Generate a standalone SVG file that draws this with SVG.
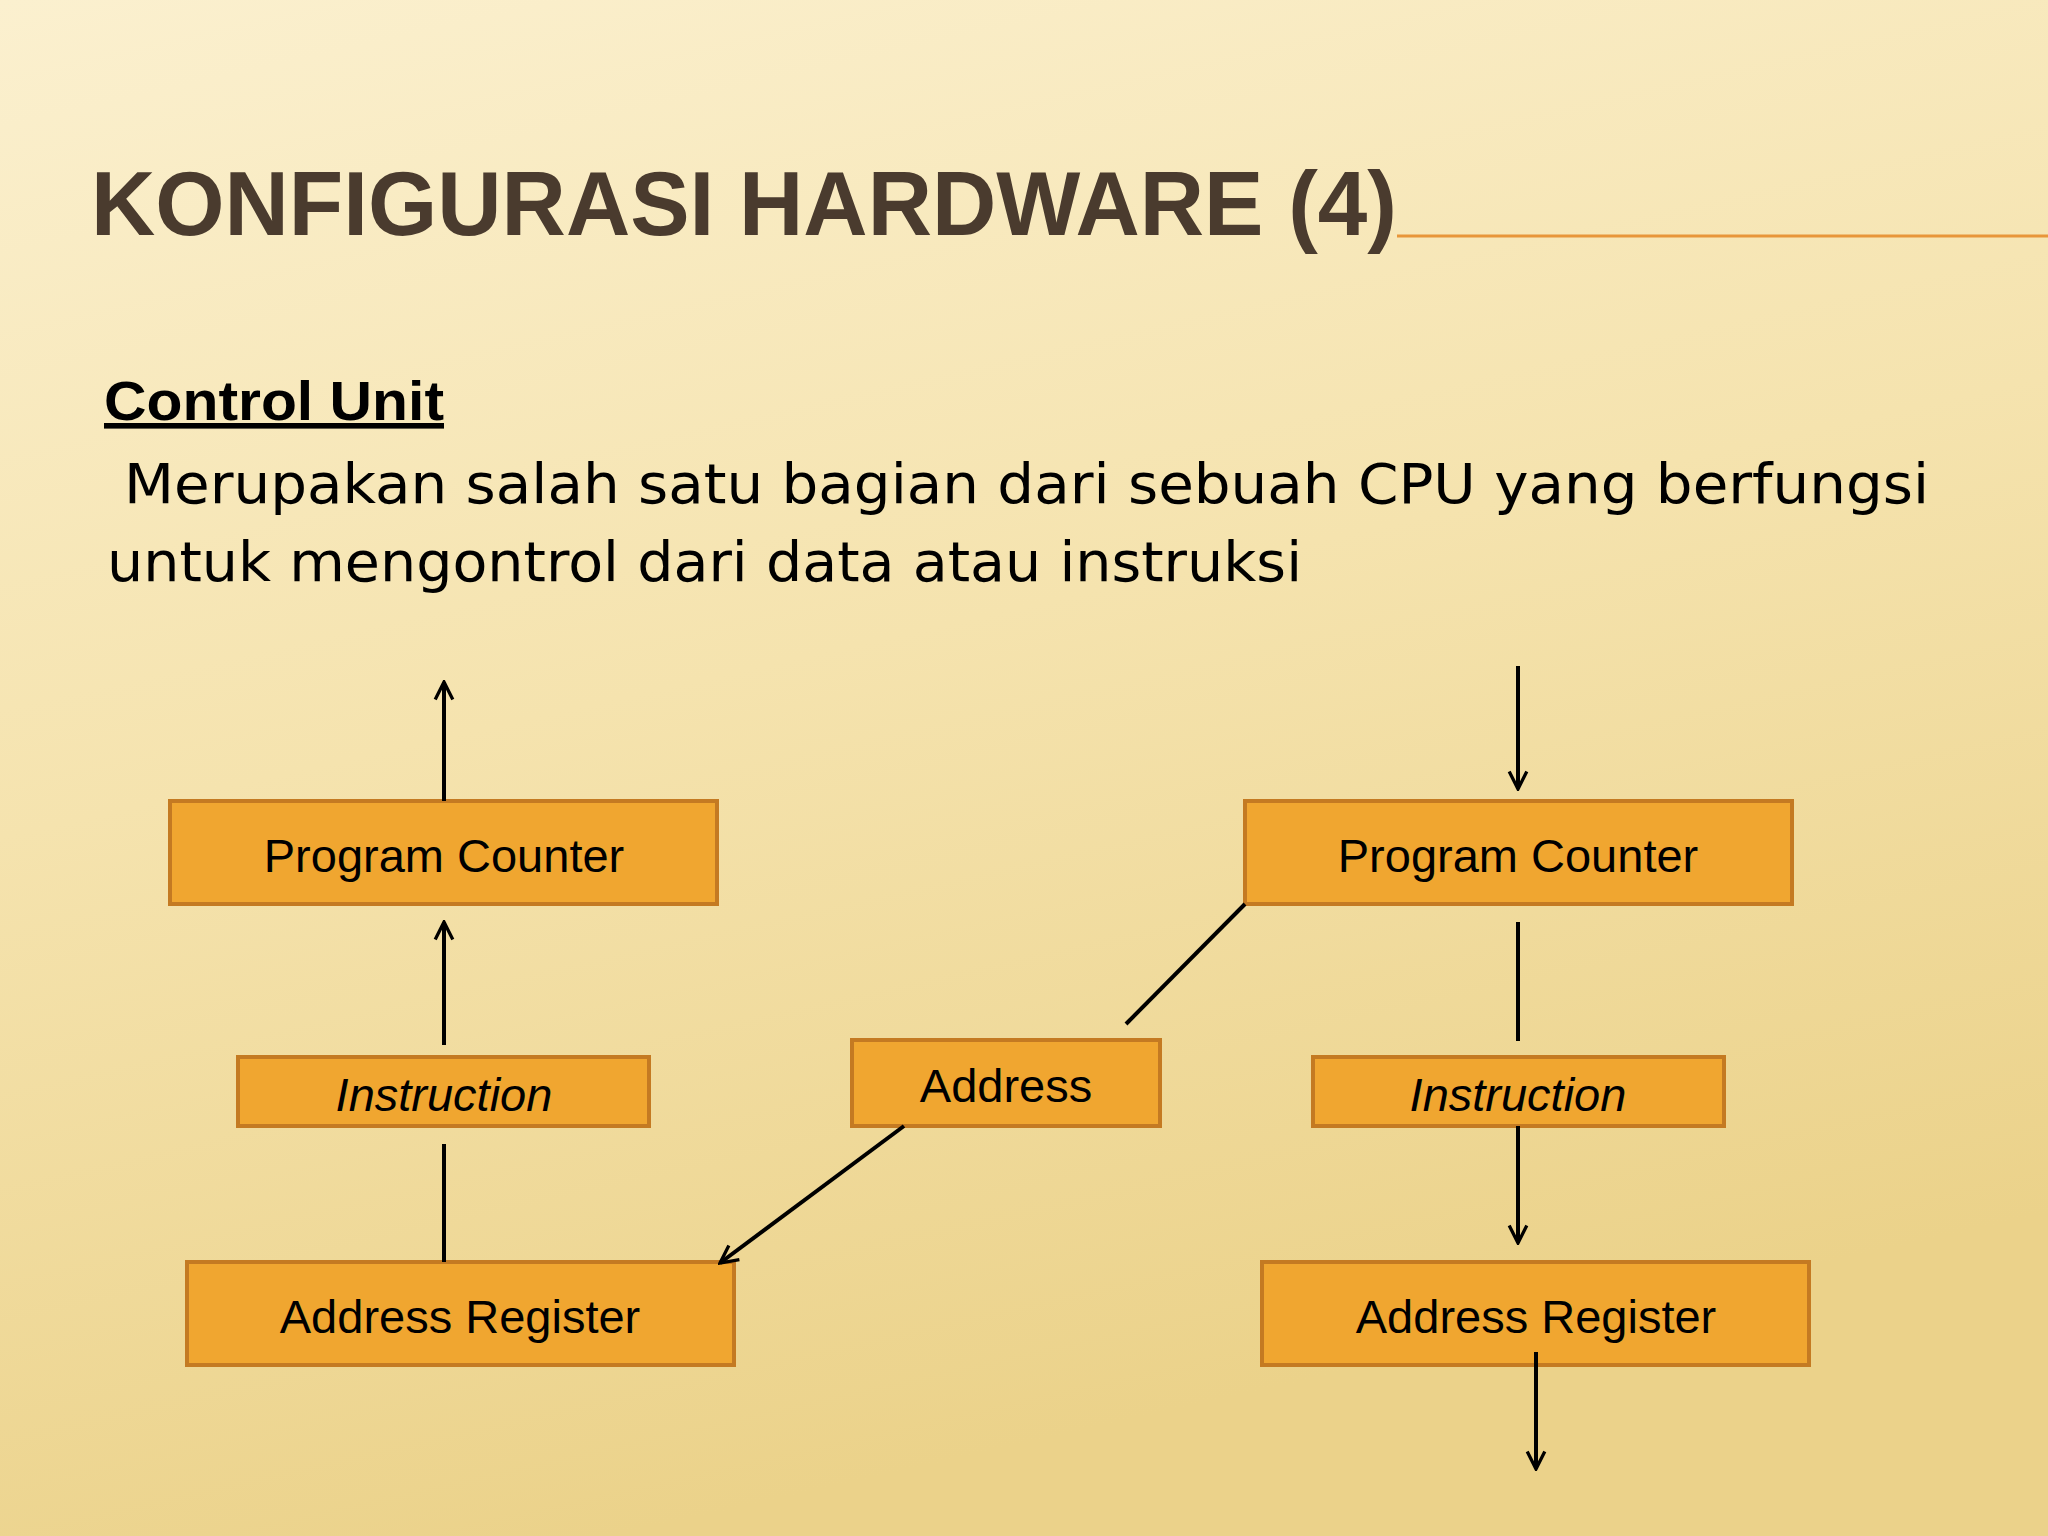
<svg xmlns="http://www.w3.org/2000/svg" width="2048" height="1536" viewBox="0 0 2048 1536">
<defs>
<linearGradient id="bg" x1="0" y1="0" x2="0.3" y2="1">
<stop offset="0" stop-color="#FBF0CF"/>
<stop offset="0.5" stop-color="#F5E3AE"/>
<stop offset="1" stop-color="#EBD28A"/>
</linearGradient>
<marker id="ah" viewBox="0 0 20 20" refX="18" refY="10" markerWidth="22" markerHeight="22" orient="auto" markerUnits="userSpaceOnUse">
<path d="M2,2 L18,10 L2,18" fill="none" stroke="#000" stroke-width="3"/>
</marker>
<style>
.box{fill:#F0A630;stroke:#C47A22;stroke-width:4}
.bt{font-family:"Liberation Sans",Arial,sans-serif;font-size:47px;fill:#000;text-anchor:middle}
.ln{stroke:#000;stroke-width:4;fill:none}
.body{font-family:"DejaVu Sans",Verdana,sans-serif;font-size:55px;fill:#000}
</style>
</defs>
<rect width="2048" height="1536" fill="url(#bg)"/>
<text x="91" y="235" font-family="Liberation Sans Narrow,Liberation Sans,sans-serif" font-size="90" font-weight="bold" fill="#4A3B2E" textLength="1306" lengthAdjust="spacingAndGlyphs">KONFIGURASI HARDWARE (4)</text>
<line x1="1397" y1="236" x2="2048" y2="236" stroke="#E8963A" stroke-width="3"/>
<text x="104" y="420" font-family="Liberation Sans,sans-serif" font-size="56" font-weight="bold" fill="#000" text-decoration="underline" textLength="340" lengthAdjust="spacingAndGlyphs">Control Unit</text>
<text class="body" x="124" y="503" textLength="1805" lengthAdjust="spacingAndGlyphs">Merupakan salah satu  bagian dari sebuah CPU yang berfungsi</text>
<text class="body" x="107" y="581" textLength="1195" lengthAdjust="spacingAndGlyphs">untuk mengontrol dari data atau instruksi</text>
<g id="pc1"><rect class="box" x="170" y="801" width="547" height="103"/><text class="bt" x="444" y="872">Program Counter</text></g>
<g id="ins1"><rect class="box" x="238" y="1057" width="411" height="69"/><text class="bt" x="444" y="1111" font-style="italic">Instruction</text></g>
<g id="ar1"><rect class="box" x="187" y="1262" width="547" height="103"/><text class="bt" x="460" y="1333">Address Register</text></g>
<g id="addr"><rect class="box" x="852" y="1040" width="308" height="86"/><text class="bt" x="1006" y="1102">Address</text></g>
<g id="pc2"><rect class="box" x="1245" y="801" width="547" height="103"/><text class="bt" x="1518" y="872">Program Counter</text></g>
<g id="ins2"><rect class="box" x="1313" y="1057" width="411" height="69"/><text class="bt" x="1518" y="1111" font-style="italic">Instruction</text></g>
<g id="ar2"><rect class="box" x="1262" y="1262" width="547" height="103"/><text class="bt" x="1536" y="1333">Address Register</text></g>
<g id="connectors">
<line class="ln" x1="444" y1="801" x2="444" y2="682" marker-end="url(#ah)"/>
<line class="ln" x1="444" y1="1045" x2="444" y2="922" marker-end="url(#ah)"/>
<line class="ln" x1="444" y1="1144" x2="444" y2="1262"/>
<line class="ln" x1="904" y1="1126" x2="720" y2="1263" marker-end="url(#ah)"/>
<line class="ln" x1="1245" y1="904" x2="1126" y2="1024"/>
<line class="ln" x1="1518" y1="666" x2="1518" y2="789" marker-end="url(#ah)"/>
<line class="ln" x1="1518" y1="922" x2="1518" y2="1041"/>
<line class="ln" x1="1518" y1="1126" x2="1518" y2="1243" marker-end="url(#ah)"/>
<line class="ln" x1="1536" y1="1352" x2="1536" y2="1469" marker-end="url(#ah)"/>
</g>
</svg>
